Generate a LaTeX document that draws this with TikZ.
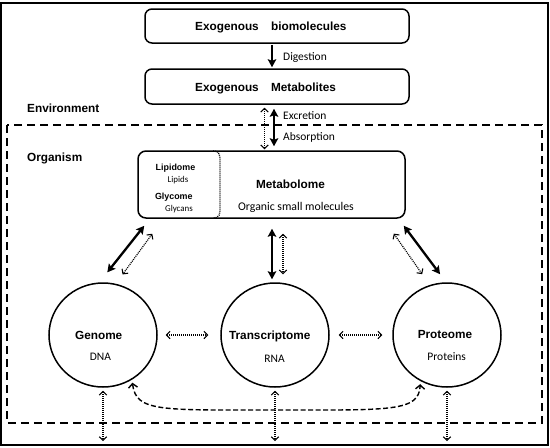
\documentclass[tikz,border=0pt]{standalone}
\usepackage{fontspec}
\setmainfont{Liberation Sans}
\newfontfamily\calibrifont{Carlito}
\usetikzlibrary{arrows.meta,shapes.geometric}

\begin{document}
\begin{tikzpicture}[x=1pt,y=-1pt,
		ome/.style={shape=ellipse,draw=black,line width=1.5pt,minimum width=108pt,minimum height=104pt,inner sep=0pt},
		pool/.style={shape=rectangle,draw=black,line width=1.5pt,rounded corners=7pt,inner sep=0pt},
		head/.style={font=\bfseries\fontsize{11.8}{14}\selectfont,inner sep=0pt},
		note/.style={font=\calibrifont\fontsize{11.5}{14}\selectfont,inner sep=0pt},
		smallhead/.style={font=\bfseries\fontsize{8.9}{11}\selectfont,inner sep=0pt},
		smallnote/.style={font=\calibrifont\fontsize{8.9}{11}\selectfont,inner sep=0pt},
		flux/.style={line width=2.3pt,{Stealth[length=8pt,width=8.5pt,inset=1.5pt]}-{Stealth[length=8pt,width=8.5pt,inset=1.5pt]}},
		fluxone/.style={line width=2.3pt,-{Stealth[length=8pt,width=8.5pt,inset=1.5pt]}},
		link/.style={line width=1.2pt,dash pattern=on 1pt off 1pt,{Straight Barb[length=3.5pt,width=7.5pt,line width=1.1pt]}-{Straight Barb[length=3.5pt,width=7.5pt,line width=1.1pt]}},
		feedback/.style={line width=1.4pt,dash pattern=on 5pt off 2.5pt,{Straight Barb[length=4pt,width=9pt,line width=1.4pt]}-{Straight Barb[length=4pt,width=9pt,line width=1.4pt]}},
		compartment/.style={line width=1.1pt,dash pattern=on 8pt off 5pt},
	]
		\useasboundingbox (0,0) rectangle (550,448);
		\draw[line width=2pt] (1,2.5) rectangle (548,445);
		
		% environment / organism
		\draw[compartment] (7,125) rectangle (542,423);
		\node[head,anchor=base west] (Environment) at (27,112.7) {Environment};
		\node[head,anchor=base west] (Organism) at (27,161) {Organism};
		
		% exogenous side
		\node[pool,minimum width=264pt,minimum height=34pt] (Biomolecules) at (277,26) {};
		\node[pool,minimum width=264pt,minimum height=35pt] (Metabolites) at (277,86.5) {};
		\node[head,anchor=base west] (BiomoleculesText) at (195,30.7) {Exogenous\hspace{9pt} biomolecules};
		\node[head,anchor=base west] (MetabolitesText) at (195,91) {Exogenous\hspace{9pt} Metabolites};
		
		\draw[fluxone,shorten <=1pt,shorten >=1pt] ([xshift=-5pt]Biomolecules.south) to ([xshift=-5pt]Biomolecules.south |- Metabolites.north);
		\node[note,anchor=base west] (Digestion) at (283,60.7) {Digestion};
		
		% metabolome
		\node[pool,rounded corners=8pt,minimum width=267pt,minimum height=67pt] (Metabolome) at (271.5,184.5) {};
		\draw[line width=1.3pt,dash pattern=on 1pt off 1pt] (213,151) .. controls (220,151) and (220,155) .. (220,162) -- (220,207) .. controls (220,214) and (220,218) .. (213,218);
		
		\node[smallhead,anchor=base] (Lipidome) at (175.5,170.7) {Lipidome};
		\node[smallnote,anchor=base] (Lipids) at (178,182.3) {Lipids};
		\node[smallhead,anchor=base] (Glycome) at (173.8,199) {Glycome};
		\node[smallnote,anchor=base] (Glycans) at (179,211.7) {Glycans};
		\node[head,anchor=base] (MetabolomeName) at (290.5,188.3) {Metabolome};
		\node[note,anchor=base,font=\calibrifont\fontsize{11.8}{14}\selectfont] (SmallMolecules) at (296,210) {Organic small molecules};
		
		\draw[link,shorten <=3pt,shorten >=1pt] ([xshift=-12.5pt]Metabolites.south) to ([xshift=-12.5pt]Metabolites.south |- Metabolome.north);
		\draw[flux,shorten <=4pt,shorten >=4pt] ([xshift=-3pt]Metabolites.south) to ([xshift=-3pt]Metabolites.south |- Metabolome.north);
		\node[note,anchor=base west] (Excretion) at (283,119) {Excretion};
		\node[note,anchor=base west] (Absorption) at (283,140) {Absorption};
		
		% genome, transcriptome, proteome
		\foreach \name/\x in {Genome/103,Transcriptome/275,Proteome/447} {
			\node[ome] (\name) at (\x,335) {};
			\coordinate (Out\name) at (\x,441);
			\draw[link,shorten <=3pt] (\name.south) to (Out\name);
		}
		
		\node[head,anchor=base] (GenomeName) at (98.7,339) {Genome};
		\node[note,anchor=base] (DNA) at (100.5,360.7) {DNA};
		\node[head,anchor=base] (TranscriptomeName) at (269.7,339) {Transcriptome};
		\node[note,anchor=base] (RNA) at (274.5,362.7) {RNA};
		\node[head,anchor=base] (ProteomeName) at (445,338.3) {Proteome};
		\node[note,anchor=base] (Proteins) at (446.7,360.7) {Proteins};
		
		\draw[link,shorten <=8pt,shorten >=12pt] (Genome.east) to (Transcriptome.west);
		\draw[link,shorten <=9pt,shorten >=10pt] (Transcriptome.east) to (Proteome.west);
		
		% metabolome <-> omes
		\draw[flux,shorten <=9pt,shorten >=12.8pt] ([xshift=12.6pt]Metabolome.south west) to (Genome.94);
		\draw[link,shorten <=18.6pt,shorten >=11.5pt] ([xshift=26pt]Metabolome.south west) to (Genome.76.5);
		\draw[flux,shorten <=10pt,shorten >=3pt] ([xshift=0.5pt]Metabolome.south) to ([xshift=0.5pt]Metabolome.south |- Transcriptome.north);
		\draw[link,shorten <=15pt,shorten >=8pt] ([xshift=11.5pt]Metabolome.south) to ([xshift=11.5pt]Metabolome.south |- Transcriptome.north);
		\draw[flux,shorten <=8.7pt,shorten >=10pt] ([xshift=-7.2pt]Metabolome.south east) to (Proteome.91.2);
		\draw[link,shorten <=18.2pt,shorten >=13.2pt] ([xshift=-22.4pt]Metabolome.south east) to (Proteome.109.6);
		
		% genome <-> proteome
		\draw[feedback,shorten <=3pt,shorten >=3pt] (Genome.-57) .. controls (136,412) and (160,410) .. (275,410) .. controls (390,410) and (419,412) .. (Proteome.-120);
		
	\end{tikzpicture}
\end{document}
